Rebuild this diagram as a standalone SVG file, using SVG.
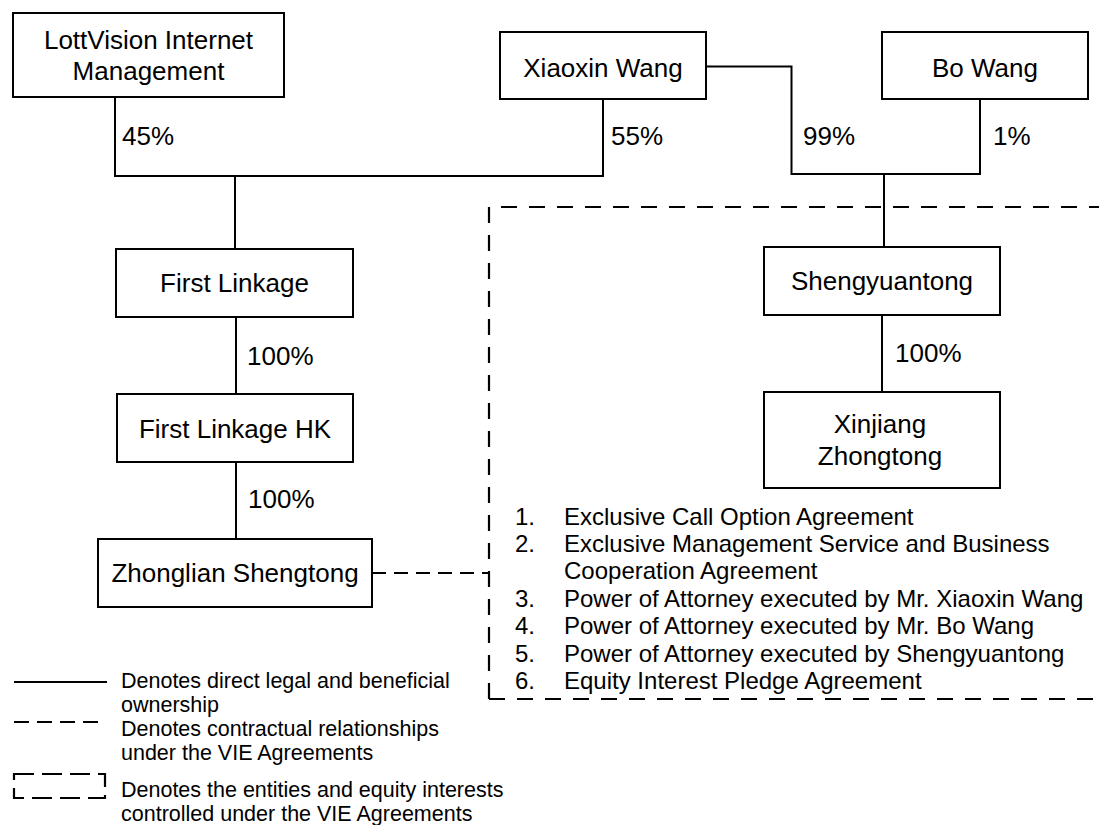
<svg xmlns="http://www.w3.org/2000/svg" width="1099" height="825" viewBox="0 0 1099 825">
<style>
  .box{fill:#fff;stroke:#000;stroke-width:2}
  .ln{fill:none;stroke:#000;stroke-width:2}
  .dash{fill:none;stroke:#000;stroke-width:2.2;stroke-dasharray:14,8}
  .vie{fill:none;stroke:#000;stroke-width:2.2;stroke-dasharray:16,12}
  text{font-family:"Liberation Sans",Arial,Helvetica,sans-serif;fill:#000}
  .t{font-size:26px;text-anchor:middle}
  .p{font-size:26px}
  .l{font-size:24px}
  .g{font-size:21.5px}
</style>
<rect width="1099" height="825" fill="#fff"/>
<g id="connectors">
  <path class="ln" d="M115,97 V176 H603 V99"/>
  <path class="ln" d="M235,176 V249"/>
  <path class="ln" d="M706,66.5 H791.5 V174 H980 V99"/>
  <path class="ln" d="M884,174 V247"/>
  <path class="ln" d="M236,317 V394"/>
  <path class="ln" d="M236,462 V539"/>
  <path class="ln" d="M882,315 V392"/>
  <path class="dash" d="M372,573 H489"/>
  <text class="p" x="122" y="145">45%</text>
  <text class="p" x="611" y="145">55%</text>
  <text class="p" x="803" y="145">99%</text>
  <text class="p" x="993" y="145">1%</text>
  <text class="p" x="247" y="365">100%</text>
  <text class="p" x="248" y="508">100%</text>
  <text class="p" x="895" y="362">100%</text>
</g>
<g id="vie-boundary">
  <path class="vie" d="M489,699 V207 H1105 M489,699 H1105"/>
</g>
<g id="lottvision">
  <rect class="box" x="13" y="13" width="271" height="84"/>
  <text class="t" x="148.5" y="49">LottVision Internet</text>
  <text class="t" x="148.5" y="80">Management</text>
</g>
<g id="xiaoxin-wang">
  <rect class="box" x="500" y="32" width="206" height="67"/>
  <text class="t" x="603" y="77">Xiaoxin Wang</text>
</g>
<g id="bo-wang">
  <rect class="box" x="882" y="32" width="206" height="67"/>
  <text class="t" x="985" y="77">Bo Wang</text>
</g>
<g id="first-linkage">
  <rect class="box" x="116" y="249" width="237" height="68"/>
  <text class="t" x="234.5" y="292">First Linkage</text>
</g>
<g id="first-linkage-hk">
  <rect class="box" x="117" y="394" width="236" height="68"/>
  <text class="t" x="235" y="438">First Linkage HK</text>
</g>
<g id="zhonglian-shengtong">
  <rect class="box" x="98" y="539" width="274" height="68"/>
  <text class="t" x="235" y="582">Zhonglian Shengtong</text>
</g>
<g id="shengyuantong">
  <rect class="box" x="764" y="247" width="236" height="68"/>
  <text class="t" x="882" y="290">Shengyuantong</text>
</g>
<g id="xinjiang-zhongtong">
  <rect class="box" x="764" y="392" width="236" height="96"/>
  <text class="t" x="880" y="433">Xinjiang</text>
  <text class="t" x="880" y="465">Zhongtong</text>
</g>
<g id="agreements">
  <text class="l" x="515" y="525">1.</text>
  <text class="l" x="564" y="525">Exclusive Call Option Agreement</text>
  <text class="l" x="515" y="552">2.</text>
  <text class="l" x="564" y="552">Exclusive Management Service and Business</text>
  <text class="l" x="564" y="579">Cooperation Agreement</text>
  <text class="l" x="515" y="607">3.</text>
  <text class="l" x="564" y="607">Power of Attorney executed by Mr. Xiaoxin Wang</text>
  <text class="l" x="515" y="634">4.</text>
  <text class="l" x="564" y="634">Power of Attorney executed by Mr. Bo Wang</text>
  <text class="l" x="515" y="662">5.</text>
  <text class="l" x="564" y="662">Power of Attorney executed by Shengyuantong</text>
  <text class="l" x="515" y="689">6.</text>
  <text class="l" x="564" y="689">Equity Interest Pledge Agreement</text>
</g>
<g id="legend">
  <path class="ln" d="M14,682 H107"/>
  <text class="g" x="121" y="688">Denotes direct legal and beneficial</text>
  <text class="g" x="121" y="712">ownership</text>
  <path class="dash" d="M14,722 H106" style="stroke-dasharray:15,8"/>
  <text class="g" x="121" y="736">Denotes contractual relationships</text>
  <text class="g" x="121" y="760">under the VIE Agreements</text>
  <rect class="dash" x="14" y="774" width="91" height="24" style="stroke-dasharray:20,8"/>
  <text class="g" x="121" y="797">Denotes the entities and equity interests</text>
  <text class="g" x="121" y="821">controlled under the VIE Agreements</text>
</g>
</svg>
